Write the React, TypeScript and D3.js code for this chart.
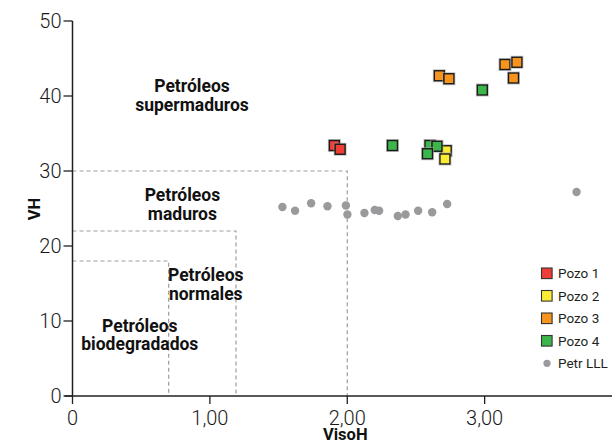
import React from "react";
import * as d3 from "d3";

const W = 616, H = 442;

const pozo1 = [[1.906, 33.4], [1.948, 32.9]];
const pozo2 = [[2.72, 32.7], [2.711, 31.6]];
const pozo3 = [[2.67, 42.7], [2.74, 42.3], [3.148, 44.2], [3.235, 44.5], [3.21, 42.4]];
const pozo4 = [[2.329, 33.4], [2.602, 33.4], [2.653, 33.3], [2.584, 32.3], [2.983, 40.8]];
const petrLLL = [
  [1.528, 25.2], [1.62, 24.7], [1.737, 25.7], [1.856, 25.3], [1.99, 25.4], [2.001, 24.2],
  [2.125, 24.4], [2.2, 24.8], [2.232, 24.7], [2.368, 24.0], [2.424, 24.2], [2.516, 24.7],
  [2.618, 24.5], [2.727, 25.6], [3.669, 27.2],
];

const xTicks = [0, 1, 2, 3];
const yTicks = [0, 10, 20, 30, 40, 50];

const series = [
  { name: "Pozo 1", color: "#ee3e36", data: pozo1 },
  { name: "Pozo 2", color: "#f8ec34", data: pozo2 },
  { name: "Pozo 3", color: "#f7941e", data: pozo3 },
  { name: "Pozo 4", color: "#3cb54a", data: pozo4 },
];

const zones = [
  { x: 2.0, y: 30 },
  { x: 1.19, y: 22 },
  { x: 0.7, y: 18 },
];

const zoneLabels = [
  { lines: ["Petróleos", "supermaduros"], x: 0.87, y: 40.5 },
  { lines: ["Petróleos", "maduros"], x: 0.8, y: 26.0 },
  { lines: ["Petróleos", "normales"], x: 0.97, y: 15.3 },
  { lines: ["Petróleos", "biodegradados"], x: 0.49, y: 8.6 },
];

const GRAY = "#9a9a9c";

export default function App() {
  const x = d3.scaleLinear().domain([0, 3.927]).range([72.5, 612]);
  const y = d3.scaleLinear().domain([0, 50]).range([396, 21]);
  const axisColor = "#231f20";
  const font = "Roboto, 'Liberation Sans', sans-serif";
  const sq = 10;

  return (
    <svg width={W} height={H} style={{ position: "absolute", left: 0, top: 0, display: "block" }} fontFamily={font}>
      <rect width={W} height={H} fill="#fff" />
      {zones.map((z, i) => (
        <path
          key={i}
          d={`M${x(0)},${y(z.y)}H${x(z.x)}V${y(0)}`}
          fill="none"
          stroke="#9d9d9d"
          strokeWidth={1.2}
          strokeDasharray="4,3"
        />
      ))}
      {zoneLabels.map((l, i) => (
        <text
          key={i}
          x={x(l.x)}
          y={y(l.y)}
          textAnchor="middle"
          fontSize={17.5}
          fontWeight="bold"
          fill="#111"
        >
          {l.lines.map((t, j) => (
            <tspan key={j} x={x(l.x)} dy={j === 0 ? 0 : 18.5}>
              {t}
            </tspan>
          ))}
        </text>
      ))}
      <line x1={x(0)} x2={x(0)} y1={y(50)} y2={y(0)} stroke={axisColor} strokeWidth={1.5} />
      <line x1={x(0) - 8} x2={612} y1={y(0)} y2={y(0)} stroke={axisColor} strokeWidth={1.5} />
      {yTicks.map((t) => (
        <g key={t}>
          <line x1={x(0) - 9} x2={x(0)} y1={y(t)} y2={y(t)} stroke={axisColor} strokeWidth={1.3} />
          <text x={x(0) - 11} y={y(t)} dy="0.36em" textAnchor="end" fontSize={20} fontWeight={300} fill="#1a1a1a">
            {t}
          </text>
        </g>
      ))}
      {xTicks.map((t) => (
        <g key={t}>
          <line x1={x(t)} x2={x(t)} y1={y(0)} y2={y(0) + 8} stroke={axisColor} strokeWidth={1.3} />
          <text x={x(t)} y={425} textAnchor="middle" fontSize={20} fontWeight={300} fill="#1a1a1a">
            {t === 0 ? "0" : d3.format(".2f")(t).replace(".", ",")}
          </text>
        </g>
      ))}
      <text x={x(2) - 2} y={440} textAnchor="middle" fontSize={16.5} fontWeight="bold" fill="#111">
        VisoH
      </text>
      <text
        transform={`translate(40,${209}) rotate(-90)`}
        textAnchor="middle"
        fontSize={16.5}
        fontWeight="bold"
        fill="#111"
      >
        VH
      </text>
      {petrLLL.map((d, i) => (
        <circle key={i} cx={x(d[0])} cy={y(d[1])} r={4.2} fill={GRAY} />
      ))}
      {series.map((s) =>
        s.data.map((d, i) => (
          <g key={s.name + i}>
            <rect
              x={x(d[0]) - sq / 2 - 1}
              y={y(d[1]) - sq / 2 - 1}
              width={sq + 2}
              height={sq + 2}
              fill="none"
              stroke="#aaa"
              strokeWidth={1}
              opacity={0.7}
            />
            <rect
              x={x(d[0]) - sq / 2}
              y={y(d[1]) - sq / 2}
              width={sq}
              height={sq}
              fill={s.color}
              stroke="#1a1a1a"
              strokeWidth={1.4}
            />
          </g>
        ))
      )}
      {series.map((s, i) => (
        <g key={s.name} transform={`translate(0,${273.3 + i * 22.5})`}>
          <rect x={541.5} y={-5.3} width={10.6} height={10.6} fill={s.color} stroke="#333" strokeWidth={1.1} />
          <text x={558} y={0} dy="0.36em" fontSize={13.5} fill="#231f20">
            {s.name}
          </text>
        </g>
      ))}
      <g transform={`translate(0,${273.3 + 4 * 22.5})`}>
        <circle cx={547} cy={0} r={3.6} fill={GRAY} />
        <text x={558} y={0} dy="0.36em" fontSize={13.5} fill="#231f20">
          Petr LLL
        </text>
      </g>
    </svg>
  );
}
